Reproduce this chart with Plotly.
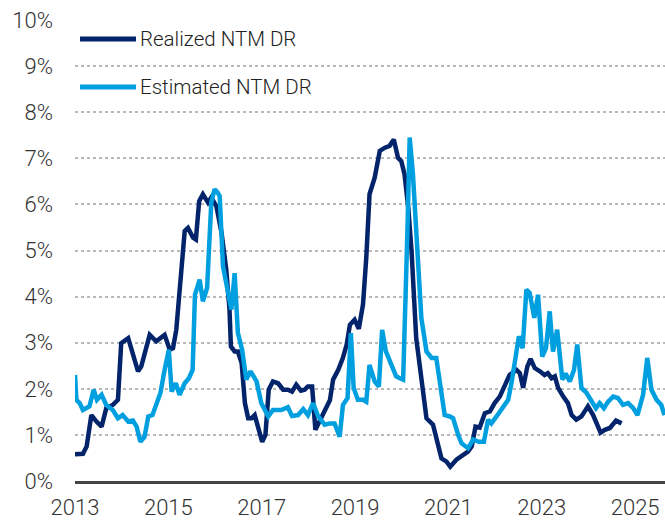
import plotly.graph_objects as go

# Realized NTM default rate (decimal year, %)
realized_x = [2013.00, 2013.17, 2013.25, 2013.35, 2013.46, 2013.57, 2013.67, 2013.81, 2013.92, 2013.99,
              2014.14, 2014.24, 2014.35, 2014.42, 2014.60, 2014.74, 2014.92, 2015.03, 2015.10, 2015.17,
              2015.24, 2015.35, 2015.42, 2015.53, 2015.59, 2015.66, 2015.74, 2015.85, 2015.92, 2016.03,
              2016.14, 2016.24, 2016.31, 2016.34, 2016.42, 2016.49, 2016.57, 2016.64, 2016.71, 2016.78,
              2016.85, 2016.92, 2017.01, 2017.08, 2017.15, 2017.24, 2017.35, 2017.46, 2017.56, 2017.65,
              2017.74, 2017.84, 2017.92, 2017.99, 2018.08, 2018.15, 2018.22, 2018.33, 2018.46, 2018.53,
              2018.64, 2018.74, 2018.82, 2018.89, 2018.99, 2019.08, 2019.14, 2019.17, 2019.24, 2019.31,
              2019.42, 2019.53, 2019.64, 2019.74, 2019.83, 2019.92, 2019.99, 2020.06, 2020.14, 2020.21,
              2020.31, 2020.42, 2020.53, 2020.67, 2020.78, 2020.85, 2020.96, 2021.04, 2021.17, 2021.31,
              2021.42, 2021.50, 2021.58, 2021.67, 2021.78, 2021.89, 2021.99, 2022.10, 2022.21, 2022.31,
              2022.46, 2022.53, 2022.60, 2022.69, 2022.76, 2022.85, 2022.96, 2023.06, 2023.13, 2023.21,
              2023.28, 2023.35, 2023.46, 2023.56, 2023.64, 2023.74, 2023.85, 2023.99, 2024.10, 2024.17,
              2024.26, 2024.35, 2024.46, 2024.59, 2024.71]
realized_y = [0.58, 0.59, 0.75, 1.43, 1.29, 1.18, 1.58, 1.65, 1.76, 2.99,
              3.10, 2.78, 2.38, 2.49, 3.17, 3.03, 3.17, 2.85, 2.88, 3.28,
              4.22, 5.42, 5.49, 5.28, 5.24, 6.07, 6.22, 6.04, 6.15, 5.96,
              5.38, 4.59, 3.72, 2.92, 2.81, 2.81, 2.56, 1.69, 1.36, 1.36,
              1.43, 1.18, 0.85, 1.00, 1.98, 2.16, 2.12, 1.98, 1.98, 1.94,
              2.09, 1.96, 1.98, 2.05, 2.05, 1.11, 1.25, 1.45, 1.75, 2.20,
              2.41, 2.67, 2.96, 3.39, 3.50, 3.30, 3.60, 3.83, 4.84, 6.22,
              6.58, 7.16, 7.23, 7.27, 7.41, 7.01, 6.94, 6.65, 5.93, 4.99,
              3.10, 2.23, 1.36, 1.22, 0.78, 0.49, 0.42, 0.31, 0.46, 0.57,
              0.64, 0.75, 1.18, 1.16, 1.47, 1.51, 1.69, 1.83, 2.05, 2.30,
              2.41, 2.34, 2.02, 2.48, 2.65, 2.45, 2.38, 2.30, 2.34, 2.23,
              2.27, 2.02, 1.83, 1.69, 1.43, 1.33, 1.40, 1.62, 1.43, 1.25,
              1.05, 1.11, 1.15, 1.31, 1.25]

# Estimated NTM default rate (decimal year, %)
estimated_x = [2013.00, 2013.03, 2013.10, 2013.17, 2013.31, 2013.40, 2013.47, 2013.57, 2013.67, 2013.81,
               2013.92, 2014.02, 2014.14, 2014.24, 2014.32, 2014.40, 2014.49, 2014.57, 2014.66, 2014.74,
               2014.83, 2014.92, 2015.01, 2015.07, 2015.16, 2015.24, 2015.35, 2015.44, 2015.52, 2015.57,
               2015.67, 2015.74, 2015.83, 2015.92, 2015.99, 2016.06, 2016.10, 2016.17, 2016.28, 2016.35,
               2016.42, 2016.49, 2016.58, 2016.67, 2016.76, 2016.89, 2016.99, 2017.14, 2017.24, 2017.42,
               2017.56, 2017.65, 2017.78, 2017.89, 2017.99, 2018.10, 2018.21, 2018.35, 2018.46, 2018.56,
               2018.67, 2018.74, 2018.84, 2018.91, 2018.97, 2019.06, 2019.17, 2019.24, 2019.31, 2019.42,
               2019.51, 2019.58, 2019.66, 2019.77, 2019.88, 2019.96, 2020.03, 2020.12, 2020.17, 2020.24,
               2020.33, 2020.42, 2020.53, 2020.64, 2020.74, 2020.85, 2020.92, 2021.03, 2021.10, 2021.21,
               2021.28, 2021.42, 2021.53, 2021.65, 2021.76, 2021.85, 2021.92, 2022.03, 2022.17, 2022.28,
               2022.35, 2022.46, 2022.51, 2022.59, 2022.67, 2022.74, 2022.84, 2022.92, 2023.01, 2023.09,
               2023.17, 2023.24, 2023.33, 2023.44, 2023.51, 2023.60, 2023.69, 2023.76, 2023.85, 2023.96,
               2024.07, 2024.16, 2024.24, 2024.33, 2024.42, 2024.53, 2024.63, 2024.74, 2024.85, 2024.96,
               2025.05, 2025.17, 2025.26, 2025.35, 2025.46, 2025.56, 2025.63]
estimated_y = [2.30, 1.76, 1.69, 1.54, 1.62, 1.98, 1.76, 1.87, 1.65, 1.54,
               1.36, 1.43, 1.29, 1.31, 1.18, 0.85, 0.96, 1.40, 1.43, 1.69,
               1.91, 2.41, 2.85, 1.94, 2.12, 1.87, 2.12, 2.23, 2.41, 4.04,
               4.37, 3.90, 4.19, 6.04, 6.33, 6.25, 6.18, 4.66, 4.01, 3.72,
               4.51, 3.21, 2.85, 2.20, 2.38, 2.16, 1.69, 1.40, 1.54, 1.54,
               1.60, 1.41, 1.43, 1.56, 1.43, 1.69, 1.40, 1.22, 1.25, 1.25,
               0.96, 1.65, 1.80, 3.21, 2.02, 1.76, 1.76, 1.72, 2.52, 2.16,
               2.05, 3.28, 2.81, 2.52, 2.27, 2.23, 2.20, 5.35, 7.45, 6.65,
               4.99, 3.54, 2.81, 2.67, 2.67, 1.80, 1.43, 1.40, 1.36, 1.00,
               0.82, 0.71, 0.90, 0.85, 0.85, 1.33, 1.25, 1.40, 1.62, 1.76,
               2.12, 2.92, 3.14, 2.88, 4.15, 4.08, 3.54, 4.04, 2.70, 2.88,
               3.68, 2.81, 3.28, 2.20, 2.33, 2.16, 2.41, 2.96, 2.02, 1.91,
               1.72, 1.58, 1.69, 1.58, 1.72, 1.83, 1.80, 1.65, 1.69, 1.58,
               1.43, 1.87, 2.67, 1.98, 1.76, 1.65, 1.43]

series_names = ["Realized NTM DR", "Estimated NTM DR"]
series_colors = ["#03246b", "#009fdf"]

x_ticks = [2013, 2015, 2017, 2019, 2021, 2023, 2025]
x_ticklabels = [str(v) for v in x_ticks]
y_ticks = list(range(0, 11))
y_ticklabels = [f"{v}%" for v in y_ticks]

FONT = "Roboto, Liberation Sans Narrow, DejaVu Sans Condensed, sans-serif"

W, H = 665, 525
L, R, T, B = 75, 0, 20, 44
PW, PH = W - L - R, H - T - B

fig = go.Figure()
for xs, ys, name, color in [(realized_x, realized_y, series_names[0], series_colors[0]),
                            (estimated_x, estimated_y, series_names[1], series_colors[1])]:
    fig.add_trace(go.Scatter(x=xs, y=ys, mode="lines", name=name,
                             line=dict(color=color, width=4.5), showlegend=False))

# custom legend (line sample + label), positioned in pixels
legend_rows = [(39, series_names[0], series_colors[0]), (87, series_names[1], series_colors[1])]
for ypix, name, color in legend_rows:
    yp = (H - B - ypix) / PH
    fig.add_shape(type="line", xref="paper", yref="paper",
                  x0=(80 - L) / PW, x1=(136 - L) / PW, y0=yp, y1=yp,
                  line=dict(color=color, width=5))
    fig.add_annotation(xref="paper", yref="paper", x=(138 - L) / PW, y=yp,
                       xanchor="left", yanchor="middle", text=name, showarrow=False,
                       font=dict(family=FONT, size=20.5, color="#222222", weight=300))

fig.update_layout(
    width=W, height=H,
    margin=dict(l=L, r=R, t=T, b=B, pad=0, autoexpand=False),
    paper_bgcolor="white", plot_bgcolor="white",
    font=dict(family=FONT, size=22, color="#333333", weight=300),
    xaxis=dict(range=[2013, 2025.64], tickmode="array", tickvals=x_ticks, ticktext=x_ticklabels,
               showgrid=False, zeroline=False, showline=True, linecolor="#444444", linewidth=2.5,
               ticks="", ticklabelstandoff=5, fixedrange=True,
               tickfont=dict(family=FONT, size=22, color="#333333", weight=300)),
    yaxis=dict(range=[0, 10], tickmode="array", tickvals=y_ticks, ticktext=y_ticklabels,
               showgrid=True, gridcolor="#b8b8b8", griddash="dot", gridwidth=2,
               zeroline=False, showline=False, ticks="", ticklabelstandoff=21, fixedrange=True,
               tickfont=dict(family=FONT, size=22, color="#333333", weight=300)),
)

fig.write_html("out.html", config={"displayModeBar": False},
               post_script="document.body.style.margin='0';")
